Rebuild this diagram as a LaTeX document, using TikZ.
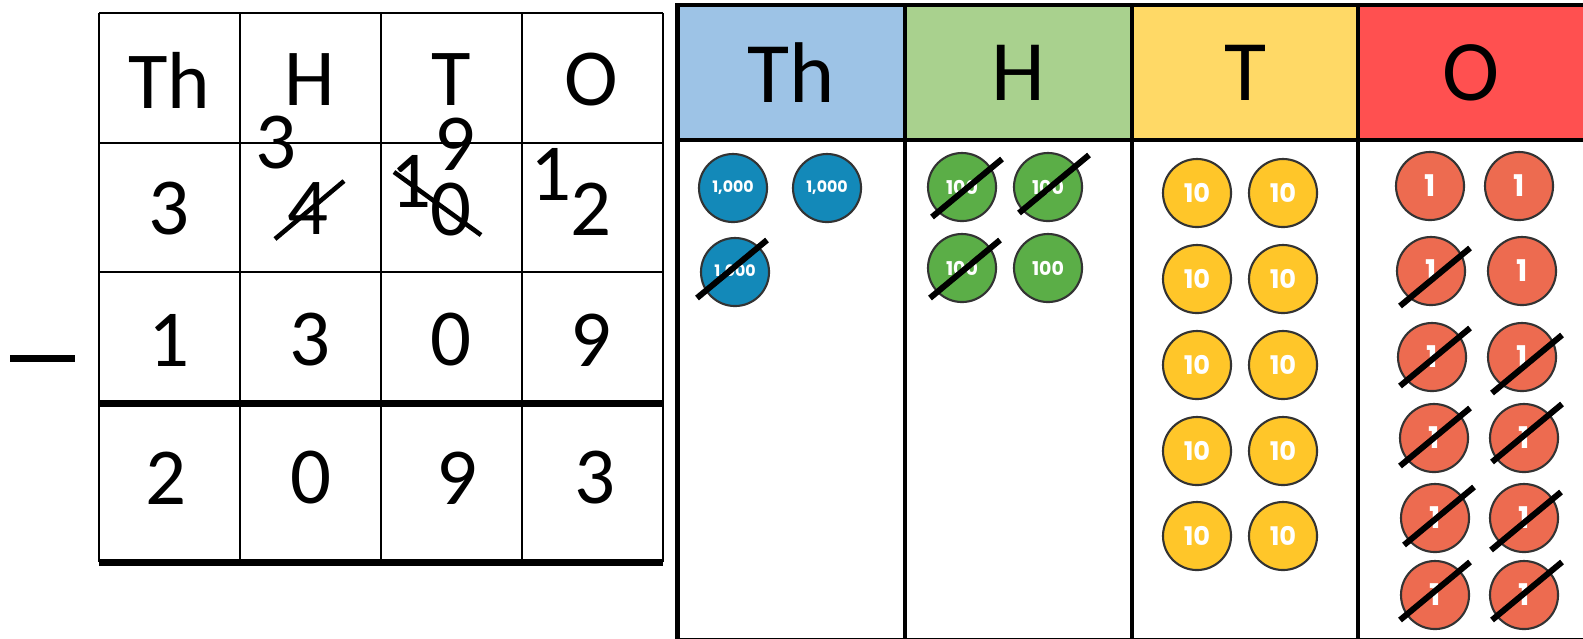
\documentclass[tikz,border=0pt]{standalone}
\usepackage{fontspec}
\setmainfont{Carlito}
\newfontfamily\coinfont{Poppins}
\definecolor{thhead}{HTML}{9DC3E6}
\definecolor{hhead}{HTML}{A9D18E}
\definecolor{thead}{HTML}{FFD966}
\definecolor{ohead}{HTML}{FF5050}
\definecolor{thcoin}{HTML}{1389B9}
\definecolor{hcoin}{HTML}{5BAE47}
\definecolor{tcoin}{HTML}{FFC629}
\definecolor{ocoin}{HTML}{ED6B50}
\begin{document}
\begin{tikzpicture}[
        x=0.01cm, y=-0.01cm,
        grid/.style={line width=0.6pt},
        boldrule/.style={line width=2pt},
        frame/.style={line width=1.4pt},
        digit/.style={font=\fontsize{23}{23}\selectfont, inner sep=0pt},
        head/.style={font=\fontsize{24.5}{24.5}\selectfont, inner sep=0pt},
        counter/.style={circle, draw=black!80, line width=0.6pt, minimum size=0.68cm, inner sep=0pt, text=white},
        thc/.style={counter, fill=thcoin, font=\coinfont\bfseries\fontsize{4.5}{5}\selectfont},
        hc/.style={counter, fill=hcoin, font=\coinfont\bfseries\fontsize{5.4}{6}\selectfont},
        tc/.style={counter, fill=tcoin, font=\coinfont\bfseries\fontsize{7.3}{8}\selectfont},
        oc/.style={counter, fill=ocoin, font=\coinfont\bfseries\fontsize{8.5}{9}\selectfont},
        strike/.style={line width=1.7pt}
    ]
        \useasboundingbox (0,0) rectangle (1583,638);

        % Column method grid
        \foreach \x in {99,240,381,522,663} {
            \draw[grid] (\x,13) -- (\x,562);
        }
        \foreach \y in {13,143,272} {
            \draw[grid] (99,\y) -- (663,\y);
        }
        \draw[boldrule] (99,403) -- (663,403);
        \draw[boldrule] (99,562) -- (663,562);
        \draw[boldrule] (10,358) -- (75,358);

        % Headings
        \foreach \n/\x/\t in {1/169/Th, 2/310/H, 3/451/T, 4/591/O} {
            \node[digit] (lh\n) at (\x,80) {\t};
        }
        % Top number
        \node[digit] (a1) at (169,209) {3};
        \node[digit] (a2) at (308,209) {4};
        \node[digit] (a3) at (451,210) {0};
        \node[digit] (a4) at (591,209) {2};
        % Exchanges
        \node[digit] (e1) at (276,143) {3};
        \node[digit] (e2) at (455,144) {9};
        \node[digit] (e3) at (411,181) {1};
        \node[digit] (e4) at (551,174) {1};
        \draw[strike, line width=1.3pt] ([shift={(-33,30)}]a2.center) -- ([shift={(36,-28)}]a2.center);
        \draw[strike, line width=1.3pt] ([shift={(-57,-38)}]a3.center) -- ([shift={(30,25)}]a3.center);
        % Number taken away
        \foreach \n/\x/\t in {1/169/1, 2/310/3, 3/451/0, 4/591/9} {
            \node[digit] (b\n) at (\x,340) {\t};
        }
        % Answer
        \foreach \n/\x/\t in {1/166/2, 2/311/0, 3/457/9, 4/595/3} {
            \node[digit] (c\n) at (\x,478) {\t};
        }

        % Place value chart
        \fill[thhead] (677.5,5) rectangle (905,140);
        \fill[hhead] (905,5) rectangle (1132,140);
        \fill[thead] (1132,5) rectangle (1358,140);
        \fill[ohead] (1358,5) rectangle (1585,140);
        \draw[frame] (677.5,640) -- (677.5,5) -- (1585,5) -- (1585,640) -- cycle;
        \draw[frame] (677.5,140) -- (1585,140);
        \foreach \x in {905,1132,1358} {
            \draw[frame] (\x,5) -- (\x,640);
        }
        \node[head] (rh1) at (791,73) {Th};
        \node[head] (rh2) at (1018.5,73) {H};
        \node[head] (rh3) at (1245,73) {T};
        \node[head] (rh4) at (1471,73) {O};

        % Counters
        \foreach \n/\x/\y in {1/733/188, 2/827/188, 3/735/272} {
            \node[thc] (th\n) at (\x,\y) {1,000};
        }
        \foreach \n/\x/\y in {1/962/187, 2/1048/187, 3/962/268, 4/1048/268} {
            \node[hc] (h\n) at (\x,\y) {100};
        }
        \foreach \n/\y in {1/193, 2/279, 3/365, 4/451, 5/536} {
            \node[tc] (tl\n) at (1197,\y) {10};
            \node[tc] (tr\n) at (1283,\y) {10};
        }
        \foreach \n/\x/\y in {1/1430/186, 2/1519/186, 3/1431/271, 4/1522/271, 5/1432/357, 6/1522/357,
                              7/1434/438, 8/1524/438, 9/1435/518, 10/1524/518, 11/1435/595, 12/1524/595} {
            \node[oc] (o\n) at (\x,\y) {1};
        }

        % Crossed out counters
        \foreach \c/\dx/\dy in {th3/-3/-3, h1/5/1, h2/6/-3, h3/3/1, o3/4/6, o5/3/0, o6/5/7, o7/1/-1,
                                o8/3/-5, o9/4/-2, o10/2/3, o11/0/-4, o12/3/-4} {
            \draw[strike] ([shift={(\dx-35,\dy+29)}]\c.center) -- ([shift={(\dx+35,\dy-29)}]\c.center);
        }
    \end{tikzpicture}
\end{document}
